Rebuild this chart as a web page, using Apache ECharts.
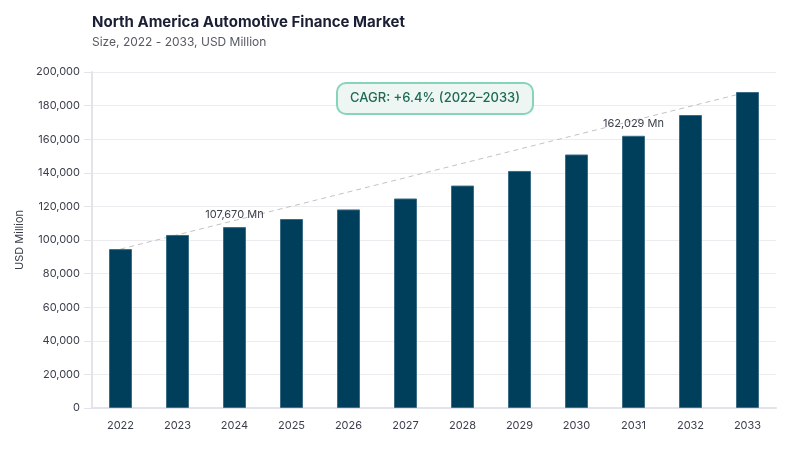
<!DOCTYPE html>
<html>
<head>
<meta charset="utf-8">
<script src="https://cdn.jsdelivr.net/npm/echarts@6/dist/echarts.min.js"></script>
<style>html,body{margin:0;padding:0;background:#fff;}#main{width:800px;height:450px;}</style>
</head>
<body>
<div id="main"></div>
<script>
const categories = ['2022','2023','2024','2025','2026','2027','2028','2029','2030','2031','2032','2033'];
const marketSize = [94600, 103000, 107670, 112500, 118200, 124700, 132400, 141100, 150900, 162029, 174400, 188100];
const labelledYears = ['2024', '2031'];
const trendYears = ['2022', '2033'];
const yTicks = [0, 20000, 40000, 60000, 80000, 100000, 120000, 140000, 160000, 180000, 200000];
const titleText = 'North America Automotive Finance Market';
const subtitleText = 'Size, 2022 - 2033, USD Million';
const cagrText = 'CAGR: +6.4% (2022–2033)';

const FONT = 'Inter, "Noto Sans", sans-serif';
const trendData = categories.map((c, i) => trendYears.includes(c) ? marketSize[i] : null);
const barData = categories.map((c, i) => {
  const item = { value: marketSize[i] };
  if (labelledYears.includes(c)) {
    item.label = {
      show: true, position: 'top', distance: 7,
      formatter: p => p.value.toLocaleString('en-US') + ' Mn',
      color: '#3a3f4b', fontSize: 11, fontFamily: FONT
    };
  }
  return item;
});

const chart = echarts.init(document.getElementById('main'));
chart.setOption({
  animation: false,
  title: [
    { text: titleText, subtext: subtitleText, left: 87, top: 10, itemGap: 6,
      textStyle: { fontFamily: FONT, fontSize: 15, fontWeight: 'bold', color: '#1b1f33' },
      subtextStyle: { fontFamily: FONT, fontSize: 12, color: '#555a63' } },
    { text: cagrText, left: 337, top: 83,
      backgroundColor: '#eef6f3', borderColor: '#86d4b9', borderWidth: 2, borderRadius: 9,
      padding: [9, 13, 9, 13],
      textStyle: { fontFamily: FONT, fontSize: 13, fontWeight: 500, color: '#1e6a55' } }
  ],
  grid: { left: 92, right: 24, top: 72, bottom: 42 },
  xAxis: {
    type: 'category', data: categories,
    axisLine: { lineStyle: { color: '#e3e3ea', width: 2 } },
    axisTick: { show: false },
    axisLabel: { color: '#3a3f4b', fontSize: 11, fontFamily: FONT, margin: 12 }
  },
  yAxis: {
    type: 'value', min: 0, max: 200000, interval: 20000,
    name: 'USD Million', nameLocation: 'middle', nameGap: 66, nameRotate: 90,
    nameTextStyle: { color: '#3a3f4b', fontSize: 11, fontFamily: FONT },
    axisLine: { show: true, lineStyle: { color: '#e3e3ea', width: 2 } },
    axisTick: { show: true, length: 8, lineStyle: { color: '#e3e3ea' } },
    axisLabel: { color: '#3a3f4b', fontSize: 11, fontFamily: FONT, margin: 12,
      formatter: v => yTicks.includes(v) ? v.toLocaleString('en-US') : '' },
    splitLine: { lineStyle: { color: '#ececf0' } }
  },
  series: [
    { type: 'line', data: trendData, connectNulls: true, symbol: 'none', z: 1,
      lineStyle: { color: '#c2c2c2', width: 1, type: [5, 4] }, silent: true },
    { type: 'bar', data: barData, barWidth: 23, z: 2,
      itemStyle: { color: '#003f5c', borderColor: '#3b6d86', borderWidth: 1 } }
  ]
});
</script>
</body>
</html>
